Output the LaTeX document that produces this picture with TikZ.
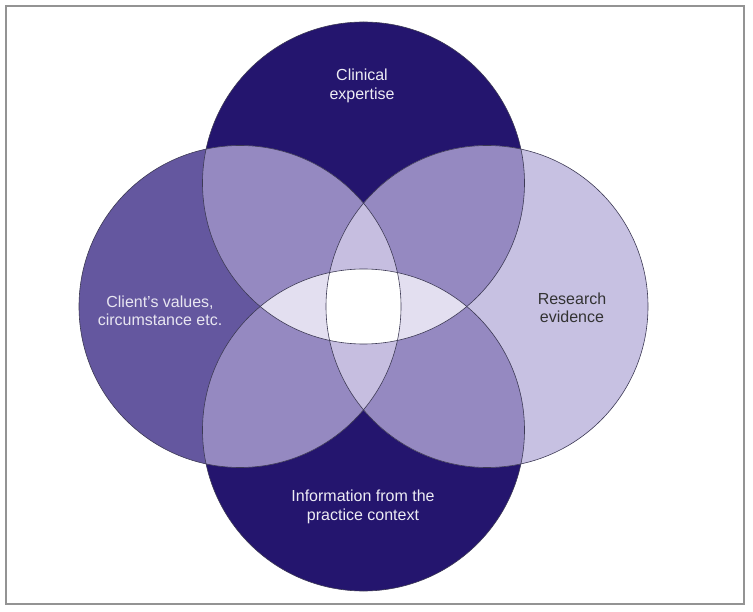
\documentclass[tikz,border=0pt]{standalone}
\usepackage{fontspec}
\setmainfont{Liberation Sans}
\definecolor{navy}{HTML}{24156E}
\definecolor{clientcol}{HTML}{64579F}
\definecolor{researchcol}{HTML}{C7C1E2}
\definecolor{paircol}{HTML}{9589C1}
\definecolor{vlenscol}{HTML}{C6BEE0}
\definecolor{hlenscol}{HTML}{E3DFF0}
\definecolor{rimcol}{HTML}{3D3A55}
\tikzset{
  rim/.style={draw=rimcol, line width=0.6pt},
  label/.style={align=center, font=\fontsize{16}{18.5}\selectfont},
}
\begin{document}
\begin{tikzpicture}[x=1pt, y=-1pt]
\useasboundingbox (0,0) rectangle (753,612);
\draw[gray!85, line width=1.3pt] (6,6) rectangle (744,604);
\def\rad{161pt}
\coordinate (ctop) at (363.5,183);
\coordinate (cbot) at (363.5,430);
\coordinate (cleft) at (240,306.5);
\coordinate (cright) at (487,306.5);
% single circles
\fill[navy] (ctop) circle[radius=\rad];
\fill[navy] (cbot) circle[radius=\rad];
\fill[clientcol] (cleft) circle[radius=\rad];
\fill[researchcol] (cright) circle[radius=\rad];
% two circles
\begin{scope}
  \clip (ctop) circle[radius=\rad];
  \fill[paircol] (cleft) circle[radius=\rad];
  \fill[paircol] (cright) circle[radius=\rad];
\end{scope}
\begin{scope}
  \clip (cbot) circle[radius=\rad];
  \fill[paircol] (cleft) circle[radius=\rad];
  \fill[paircol] (cright) circle[radius=\rad];
\end{scope}
% lenses
\begin{scope}
  \clip (cleft) circle[radius=\rad];
  \fill[vlenscol] (cright) circle[radius=\rad];
\end{scope}
\begin{scope}
  \clip (ctop) circle[radius=\rad];
  \fill[hlenscol] (cbot) circle[radius=\rad];
\end{scope}
% all four
\begin{scope}
  \clip (ctop) circle[radius=\rad];
  \clip (cbot) circle[radius=\rad];
  \clip (cleft) circle[radius=\rad];
  \fill[white] (cright) circle[radius=\rad];
\end{scope}
\foreach \c in {ctop, cbot, cleft, cright} {
  \draw[rim] (\c) circle[radius=\rad];
}
\node[label, text=white!92!navy] (clinical) at (362,86) {Clinical\\expertise};
\node[label, text=white!85!clientcol] (client) at (160,311) {Client's values,\\circumstance etc.};
\node[label, text=black!80] (research) at (572,308) {Research\\evidence};
\node[label, text=white!92!navy] (practice) at (363,507) {Information from the\\practice context};
\end{tikzpicture}
\end{document}
